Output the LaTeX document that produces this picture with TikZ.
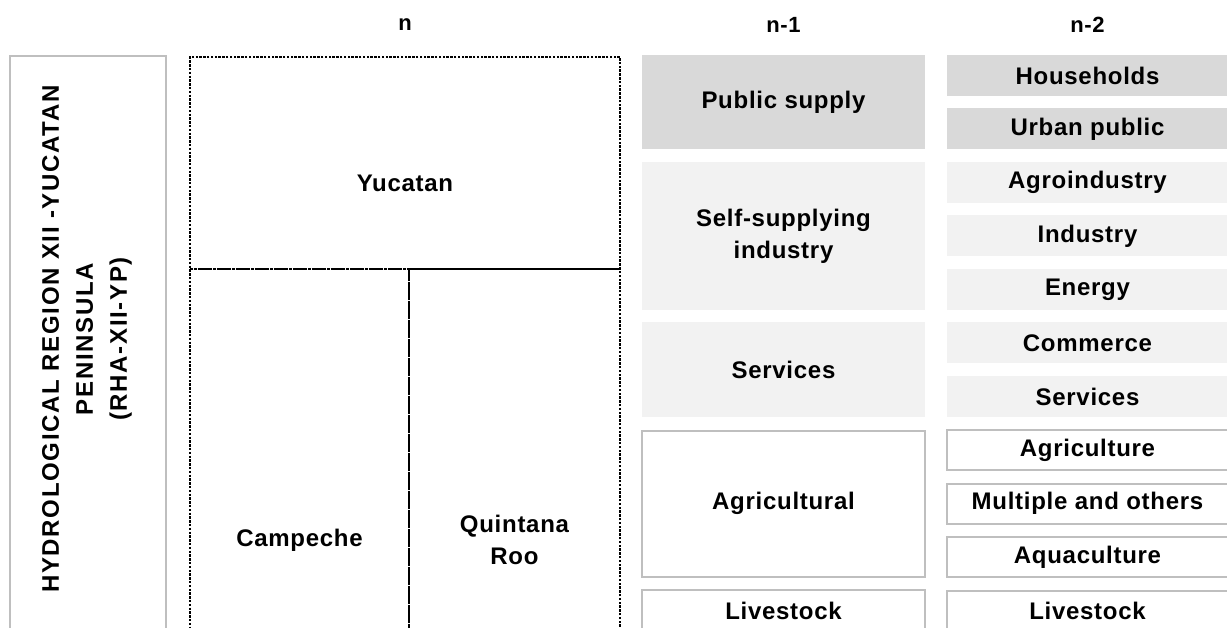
\documentclass[tikz,border=0pt]{standalone}
\usepackage{fontspec}
\setmainfont[LetterSpace=3]{Liberation Sans}
\usepackage{xcolor}

\definecolor{cellgray}{HTML}{D9D9D9}
\definecolor{cellpale}{HTML}{F2F2F2}
\definecolor{rimgray}{HTML}{BFBFBF}

\tikzset{
  lab/.style={font=\fontsize{24}{32}\selectfont\bfseries,align=center,inner sep=0pt,outer sep=0pt},
  head/.style={lab,font=\fontsize{22}{25}\selectfont\bfseries},
  usecell/.style={lab,minimum width=281pt,minimum height=41pt},
  sector/.style={lab,minimum width=283pt},
  darkfill/.style={fill=cellgray},
  palefill/.style={fill=cellpale},
  rimmed/.style={draw=rimgray,line width=2pt,fill=white},
  statebox/.style={lab,draw=black,line width=1.2pt,dash pattern=on 2.5pt off 1.3pt}
}

\begin{document}
\begin{tikzpicture}[x=1pt,y=-1pt]
\clip (0,0) rectangle (1227,628);
\fill[white] (0,0) rectangle (1227,628);

% level headers
\node[head] (hn) at (405,25) {n};
\node[head] (hn1) at (783.5,25) {n-1};
\node[head] (hn2) at (1087.5,25) {n-2};

% region frame
\node[draw=rimgray,line width=2.8pt,minimum width=156pt,minimum height=650pt,inner sep=0pt] (region) at (88,381) {};
\node[lab,rotate=90,font=\fontsize{24}{34}\selectfont\bfseries\addfontfeature{LetterSpace=7}] (regionname) at (87,339)
  {HYDROLOGICAL REGION XII -YUCATAN\\PENINSULA\\(RHA-XII-YP)};

% states (n)
\node[statebox,minimum width=430pt,minimum height=212pt] (yuc) at (405,163) {};
\node[lab] (yucname) at (405,183) {Yucatan};
\node[statebox,minimum width=219pt,minimum height=542pt] (camp) at (299.5,540) {Campeche};
\node[statebox,minimum width=211pt,minimum height=542pt] (qroo) at (514.5,540) {Quintana\\Roo};

% sectors (n-1)
\node[sector,darkfill,minimum height=94.5pt] (pubsup) at (783.5,102.25) {Public supply};
\node[sector,palefill,minimum height=148.5pt] (selfind) at (783.5,236.25) {Self-supplying\\industry};
\node[sector,palefill,minimum height=94.5pt] (serv) at (783.5,369.75) {Services};
\node[sector,rimmed,minimum height=146pt] (agri) at (783.5,503.5) {Agricultural};
\node[sector,rimmed,minimum height=41pt] (live) at (783.5,610.5) {Livestock};

% uses (n-2)
\node[usecell,darkfill] (house) at (1087.5,75.5) {Households};
\node[usecell,darkfill] (urban) at (1087.5,129) {Urban public};
\node[usecell,palefill] (agroind) at (1087.5,182.5) {Agroindustry};
\node[usecell,palefill] (ind) at (1087.5,236) {Industry};
\node[usecell,palefill] (energy) at (1087.5,289.5) {Energy};
\node[usecell,palefill] (comm) at (1087.5,343) {Commerce};
\node[usecell,palefill] (servuse) at (1087.5,396.5) {Services};
\node[usecell,rimmed,minimum height=40pt] (agruse) at (1087.5,450) {Agriculture};
\node[usecell,rimmed,minimum height=40pt] (multi) at (1087.5,503.5) {Multiple and others};
\node[usecell,rimmed,minimum height=40pt] (aqua) at (1087.5,557) {Aquaculture};
\node[usecell,rimmed,minimum height=40pt] (liveuse) at (1087.5,610.5) {Livestock};
\end{tikzpicture}
\end{document}
